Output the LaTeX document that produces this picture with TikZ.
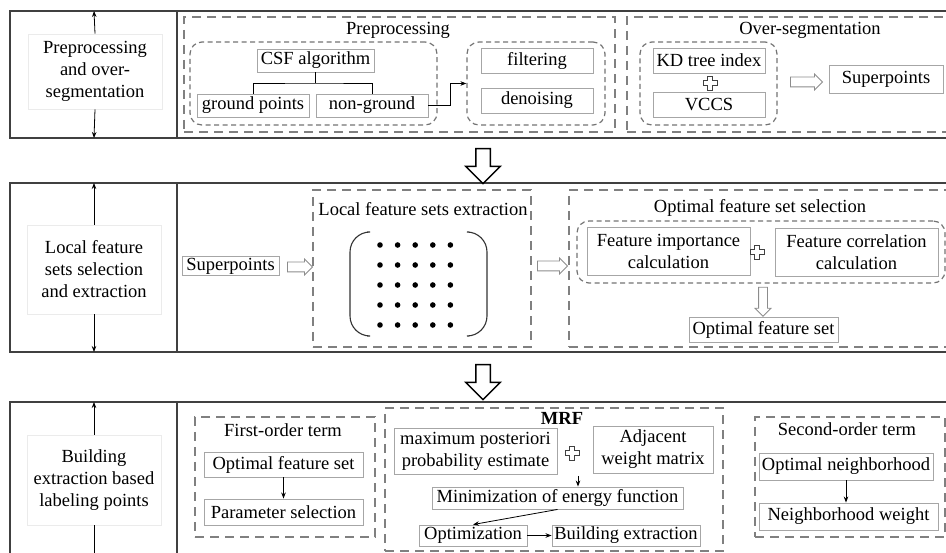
\documentclass[tikz,border=0pt]{standalone}
\usepackage{fontspec}
\setmainfont{Liberation Serif}
\usetikzlibrary{arrows.meta, shapes.arrows}

\newcommand{\plussign}[1]{\draw[plusline] (#1) ++(-2.5,-7) -- ++(5,0) -- ++(0,4.5) -- ++(4.5,0) -- ++(0,5) -- ++(-4.5,0) -- ++(0,4.5) -- ++(-5,0) -- ++(0,-4.5) -- ++(-4.5,0) -- ++(0,-5) -- ++(4.5,0) -- cycle;}

\begin{document}
\begin{tikzpicture}[x=1pt, y=-1pt, font=\rmfamily\fontsize{18.5}{22}\selectfont]

\tikzset{row/.style = {draw=black!75, line width=1.1pt}}
\tikzset{stage/.style = {draw=black!8, line width=0.8pt, align=center, minimum width=134pt}}
\tikzset{group/.style = {draw=black!50, line width=2.4pt, dash pattern=on 9pt off 6pt}}
\tikzset{sub/.style = {draw=black!55, line width=1.2pt, dash pattern=on 5pt off 3.5pt, rounded corners=12pt}}
\tikzset{item/.style = {draw=black!35, line width=0.9pt, inner sep=1pt, align=center}}
\tikzset{edge/.style = {-{Stealth[length=6pt,width=4.5pt]}, line width=0.8pt}}
\tikzset{hollow/.style = {single arrow, draw=black!45, line width=0.8pt, inner xsep=0pt, inner ysep=4.5pt, single arrow head extend=3pt}}
\tikzset{hollowdown/.style = {single arrow, draw=black!45, line width=0.8pt, inner ysep=0pt, inner xsep=4pt, single arrow head extend=3.5pt, shape border rotate=270}}
\tikzset{bighollow/.style = {single arrow, draw=black, line width=1.5pt, inner ysep=0pt, inner xsep=6.5pt, single arrow head extend=10pt, shape border rotate=270}}
\tikzset{bracket/.style = {draw=black!80, line width=1.1pt, rounded corners=20pt}}
\tikzset{plusline/.style = {draw=black!75, line width=0.8pt}}

\useasboundingbox (0,0) rectangle (946,553);
\clip (0,0) rectangle (946,553);

%rows
\draw[row] (10,11) rectangle (960,138);
\draw[row] (177,11) -- (177,138);
\draw[row] (10,183) rectangle (960,352);
\draw[row] (177,183) -- (177,352);
\draw[row] (10,402) rectangle (960,600);
\draw[row] (177,402) -- (177,600);

%stages
\node[stage, minimum height=75pt] (stage1) at (95,71.5) {Preprocessing\\and over-\\segmentation};
\node[stage, minimum height=89pt] (stage2) at (94,269.5) {Local feature\\sets selection\\and extraction};
\node[stage, minimum height=90pt] (stage3) at (94,480) {Building\\extraction based\\labeling points};
\coordinate (top1) at (94,11);
\coordinate (bot1) at (94,138);
\coordinate (top2) at (94,183);
\coordinate (bot2) at (94,352);
\coordinate (top3) at (94,402);
\coordinate (bot3) at (94,560);
\draw[edge] (stage1.north) -- (top1);
\draw[edge] (stage1.south) -- (bot1);
\draw[edge] (stage2.north) -- (top2);
\draw[edge] (stage2.south) -- (bot2);
\draw[edge] (stage3.north) -- (top3);
\draw[edge] (stage3.south) -- (bot3);

%preprocessing and over-segmentation
\node[group, minimum width=431pt, minimum height=115pt] (prep) at (399.5,74.5) {};
\node (preptitle) at (398,30) {Preprocessing};
\node[sub, minimum width=247pt, minimum height=83pt] (csfgroup) at (313.5,83.5) {};
\node[item, minimum width=117pt, minimum height=23pt] (csf) at (315.5,60.5) {CSF algorithm};
\node[item, minimum width=112pt, minimum height=23pt] (gp) at (253,105.5) {ground points};
\node[item, minimum width=112pt, minimum height=23pt] (ng) at (372,105.5) {non-ground};
\node[sub, minimum width=138pt, minimum height=83pt] (clean) at (536,83.5) {};
\node[item, minimum width=112pt, minimum height=25pt] (filt) at (537,60.5) {filtering};
\node[item, minimum width=112pt, minimum height=25pt] (deno) at (537,100.5) {denoising};
\node[group, minimum width=333pt, minimum height=115pt] (overseg) at (793.5,74.5) {};
\node (ostitle) at (810,30) {Over-segmentation};
\node[sub, minimum width=137pt, minimum height=83pt] (kdgroup) at (708.5,83.5) {};
\node[item, minimum width=112pt, minimum height=25pt] (kd) at (709,60.5) {KD tree index};
\node[item, minimum width=112pt, minimum height=25pt] (vccs) at (709,104.5) {VCCS};
\coordinate (plus1) at (710,83);
\plussign{plus1}
\node[hollow, minimum height=32pt] (arr1) at (804,82) {};
\node[item, minimum width=114pt, minimum height=28pt] (sp1) at (886,79) {Superpoints};
\coordinate (split) at (315.5,83);
\draw[line width=0.8pt] (csf.south) -- (split);
\draw[line width=0.8pt] (gp.north) |- (split) -| (ng.north);
\draw[edge] (ng.east) -- ++(22,0) |- (clean.west);

\node[bighollow, minimum height=35pt] (down1) at (483,162.5) {};

%local feature sets
\node[item, minimum width=97pt, minimum height=19pt] (sp2) at (230.5,266) {Superpoints};
\node[hollow, minimum height=25pt] (arr2) at (297.5,267) {};
\node[group, minimum width=218pt, minimum height=157pt] (lfe) at (422,268.5) {};
\node (lfetitle) at (423,209) {Local feature sets extraction};
\draw[bracket] (367,232) -- (350,232) -- (350,336) -- (367,336);
\draw[bracket] (469,232) -- (487,232) -- (487,336) -- (469,336);
\foreach \i in {0,...,4}
  \foreach \j in {0,...,4}
    \fill (380+17.6*\i, 245+20*\j) circle (2.8pt);
\node[hollow, minimum height=30pt] (arr3) at (550,266) {};
\node[group, minimum width=391pt, minimum height=157pt] (ofsel) at (764.5,268.5) {};
\node (ofstitle) at (760,208) {Optimal feature set selection};
\node[sub, minimum width=368pt, minimum height=62pt] (fgroup) at (761,252) {};
\node[item, minimum width=163pt, minimum height=48pt] (fic) at (668.5,251) {Feature importance\\calculation};
\node[item, minimum width=163pt, minimum height=48pt] (fcc) at (856.5,252) {Feature correlation\\calculation};
\coordinate (plus2) at (757,252);
\plussign{plus2}
\node[hollowdown, minimum height=29pt] (arr4) at (763,299.5) {};
\node[item, minimum width=149pt, minimum height=25pt] (ofs2) at (763.5,329.5) {Optimal feature set};

\node[bighollow, minimum height=35pt] (down2) at (483,378.5) {};

%building extraction
\node[group, minimum width=180pt, minimum height=120pt] (first) at (285,477) {};
\node (fotitle) at (283,430) {First-order term};
\node[item, minimum width=159pt, minimum height=25pt] (ofs3) at (283.5,464.5) {Optimal feature set};
\node[item, minimum width=159pt, minimum height=26pt] (ps) at (283.5,512) {Parameter selection};
\draw[edge] (ofs3.south) -- (ps.north);

\node[group, minimum width=338pt, minimum height=143pt] (mrf) at (554,479.5) {};
\node[font=\rmfamily\fontsize{18.5}{22}\selectfont\bfseries] (mrftitle) at (562,418) {MRF};
\node[item, minimum width=163pt, minimum height=46pt] (map) at (475.5,451) {maximum posteriori\\probability estimate};
\coordinate (plus3) at (572,453);
\plussign{plus3}
\node[item, minimum width=120pt, minimum height=47pt] (awm) at (653,449.5) {Adjacent\\weight matrix};
\node[item, minimum width=251pt, minimum height=22pt] (mef) at (557.5,498) {Minimization of energy function};
\node[item, minimum width=108pt, minimum height=21pt] (opt) at (473,535.5) {Optimization};
\node[item, minimum width=148pt, minimum height=21pt] (be) at (626,535.5) {Building extraction};
\coordinate (join) at (578,476);
\draw[edge] (join) -- (join |- mef.north);
\draw[edge] (mef.south) -- (opt.north);
\draw[edge] (opt.east) -- (be.west);

\node[group, minimum width=190pt, minimum height=120pt] (second) at (850,477) {};
\node (sotitle) at (847,429) {Second-order term};
\node[item, minimum width=174pt, minimum height=27pt] (on) at (846,466.5) {Optimal neighborhood};
\node[item, minimum width=179pt, minimum height=27pt] (nw) at (848.5,516.5) {Neighborhood weight};
\draw[edge] (on.south) -- (on.south |- nw.north);

\end{tikzpicture}
\end{document}
